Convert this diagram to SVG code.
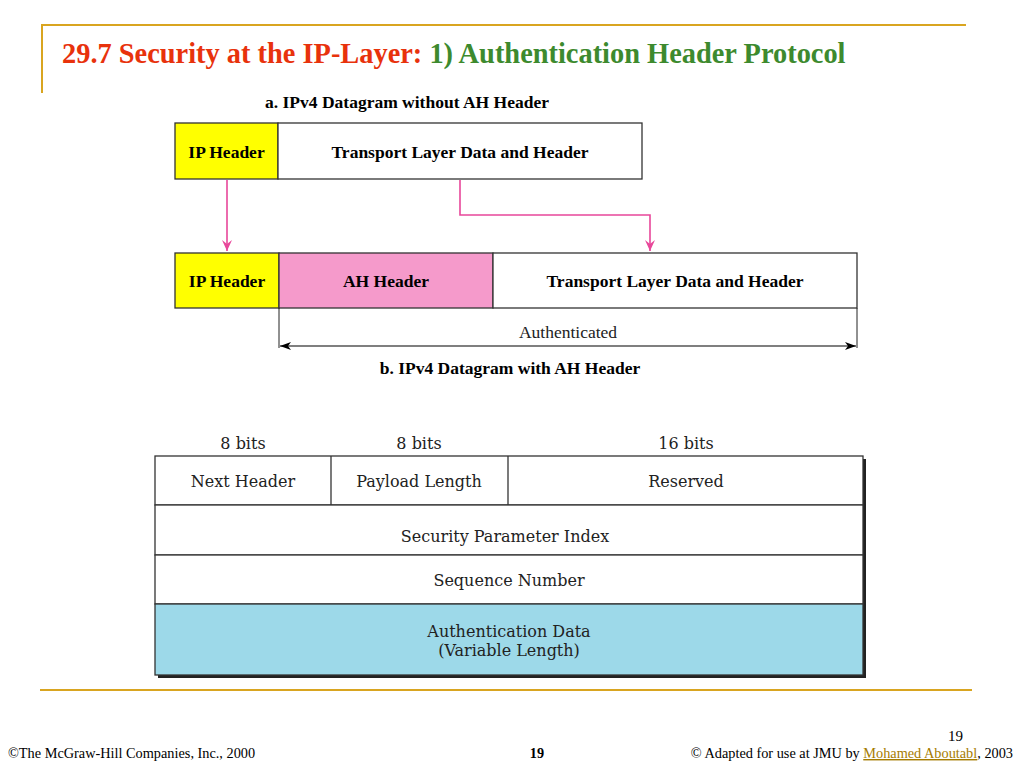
<svg xmlns="http://www.w3.org/2000/svg" width="1024" height="768" viewBox="0 0 1024 768">
<defs>
<style>
.b{font-family:"Liberation Serif",serif;font-weight:bold;fill:#000}
.n{font-family:"DejaVu Serif",serif;fill:#222}
.box{stroke:#333;stroke-width:1.3}
.pk{fill:none;stroke:#e8479a;stroke-width:1.6}
.gold{stroke:#d9a520;stroke-width:2}
</style>
<marker id="pa" markerWidth="12" markerHeight="10" refX="11" refY="5" orient="auto" markerUnits="userSpaceOnUse"><path d="M0,0 L11,5 L0,10 L4,5 Z" fill="#e8479a"/></marker>
<marker id="ba" markerWidth="12" markerHeight="8" refX="11" refY="4" orient="auto-start-reverse" markerUnits="userSpaceOnUse"><path d="M0,0 L11,4 L0,8 L3,4 Z" fill="#000"/></marker>
</defs>
<rect width="1024" height="768" fill="#fff"/>
<g id="frame">
<line class="gold" x1="42" y1="25" x2="966" y2="25"/>
<line class="gold" x1="42" y1="24" x2="42" y2="93"/>
<line class="gold" x1="40" y1="690" x2="972" y2="690"/>
</g>
<text x="62" y="63" font-family="Liberation Serif,serif" font-weight="bold" font-size="28.4"><tspan fill="#e8320c">29.7 Security at the IP-Layer: </tspan><tspan fill="#3d8a2e">1) Authentication Header Protocol</tspan></text>
<text class="b" x="407" y="108" font-size="17.5" text-anchor="middle">a. IPv4 Datagram without AH Header</text>
<g id="a-ip"><rect class="box" x="175" y="123" width="103" height="56" fill="#ffff00"/><text class="b" x="226.5" y="158" font-size="17.5" text-anchor="middle">IP Header</text></g>
<g id="a-tl"><rect class="box" x="278" y="123" width="364" height="56" fill="#fff"/><text class="b" x="460" y="158" font-size="17.5" text-anchor="middle">Transport Layer Data and Header</text></g>
<g id="b-ip"><rect class="box" x="175" y="253" width="104" height="55" fill="#ffff00"/><text class="b" x="227" y="287" font-size="17.5" text-anchor="middle">IP Header</text></g>
<g id="b-ah"><rect class="box" x="279" y="253" width="214" height="55" fill="#f59acb"/><text class="b" x="386" y="287" font-size="17.5" text-anchor="middle">AH Header</text></g>
<g id="b-tl"><rect class="box" x="493" y="253" width="364" height="55" fill="#fff"/><text class="b" x="675" y="287" font-size="17.5" text-anchor="middle">Transport Layer Data and Header</text></g>
<g id="connectors">
<line class="pk" x1="227" y1="180" x2="227" y2="251" marker-end="url(#pa)"/>
<polyline class="pk" points="460,180 460,215 650,215 650,251" marker-end="url(#pa)"/>
<line x1="279" y1="308" x2="279" y2="348" stroke="#222" stroke-width="1"/>
<line x1="857" y1="308" x2="857" y2="348" stroke="#222" stroke-width="1"/>
<line x1="280" y1="346" x2="856" y2="346" stroke="#000" stroke-width="1.2" marker-start="url(#ba)" marker-end="url(#ba)"/>
</g>
<text x="568" y="338" font-family="Liberation Serif,serif" fill="#222" font-size="17.5" text-anchor="middle">Authenticated</text>
<text class="b" x="510" y="374" font-size="17.5" text-anchor="middle">b. IPv4 Datagram with AH Header</text>
<g id="bits">
<text class="n" x="243" y="449" font-size="16" text-anchor="middle">8 bits</text>
<text class="n" x="419" y="449" font-size="16" text-anchor="middle">8 bits</text>
<text class="n" x="686" y="449" font-size="16" text-anchor="middle">16 bits</text>
</g>
<g id="ah-format">
<rect x="158" y="459" width="708" height="219" fill="#222"/>
<rect class="box" x="155" y="456" width="708" height="49" fill="#fff"/>
<rect class="box" x="155" y="505" width="708" height="50" fill="#fff"/>
<rect class="box" x="155" y="555" width="708" height="49" fill="#fff"/>
<rect class="box" x="155" y="604" width="708" height="71" fill="#9dd9e9"/>
<line class="box" x1="331" y1="456" x2="331" y2="505"/>
<line class="box" x1="508" y1="456" x2="508" y2="505"/>
<text class="n" x="243" y="487" font-size="16" text-anchor="middle">Next Header</text>
<text class="n" x="419" y="487" font-size="16" text-anchor="middle">Payload Length</text>
<text class="n" x="686" y="487" font-size="16" text-anchor="middle">Reserved</text>
<text class="n" x="505" y="542" font-size="16" text-anchor="middle">Security Parameter Index</text>
<text class="n" x="509" y="586" font-size="16" text-anchor="middle">Sequence Number</text>
<text class="n" x="509" y="637" font-size="16" text-anchor="middle">Authentication Data</text>
<text class="n" x="509" y="656" font-size="16" text-anchor="middle">(Variable Length)</text>
</g>
<g id="footer" font-family="Liberation Serif,serif" font-size="14.3" fill="#000">
<text x="948" y="741" font-size="15">19</text>
<text x="8" y="758">©The McGraw-Hill Companies, Inc., 2000</text>
<text x="537" y="758" font-weight="bold" text-anchor="middle">19</text>
<text x="1013" y="758" text-anchor="end">© Adapted for use at JMU by <tspan fill="#a67c00" text-decoration="underline">Mohamed Aboutabl</tspan>, 2003</text>
</g>
</svg>
